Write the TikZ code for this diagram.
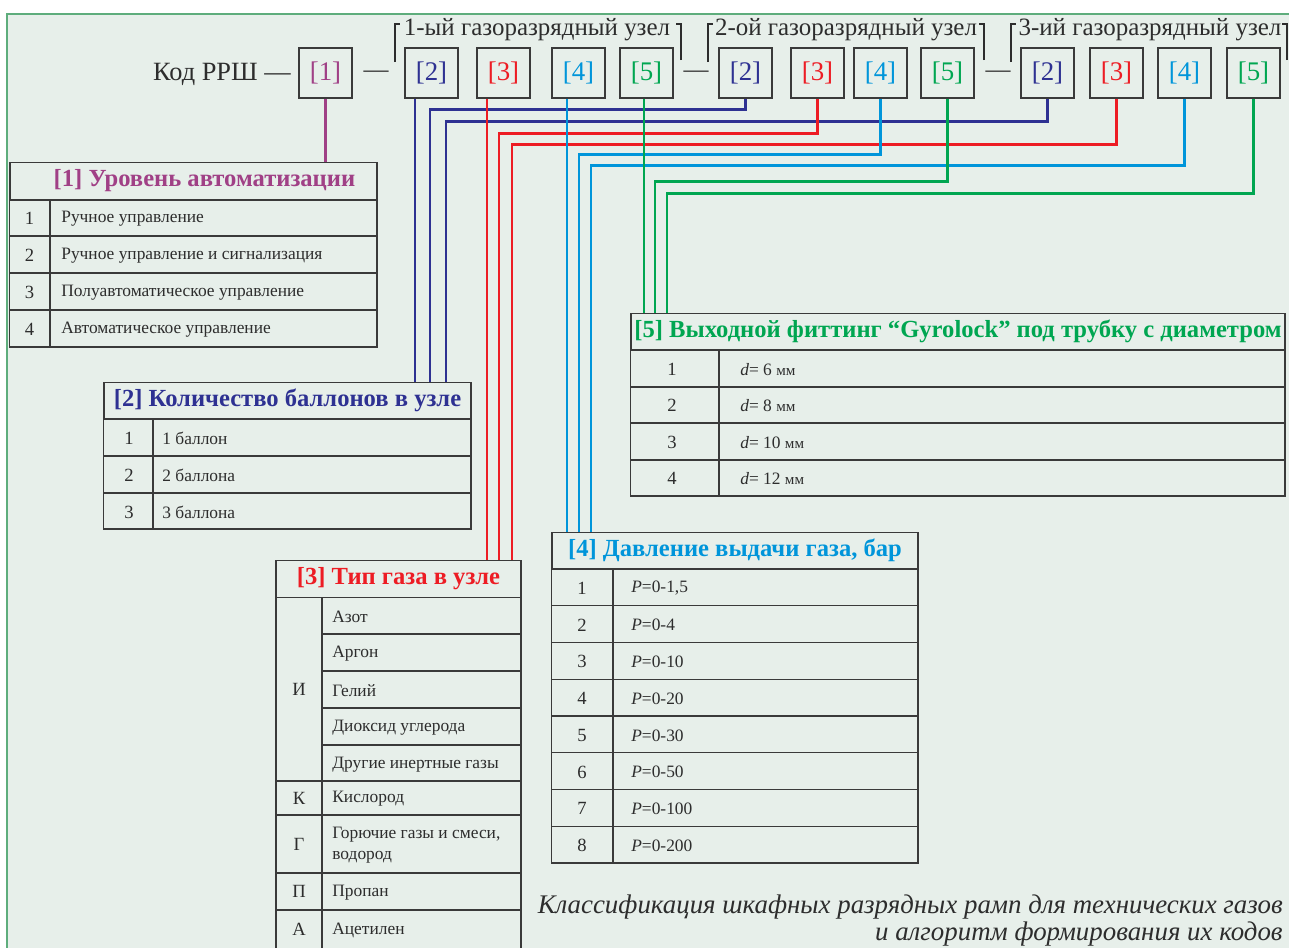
\documentclass[tikz,border=0pt]{standalone}
\usepackage{fontspec}
\setmainfont{Liberation Serif}
\usetikzlibrary{positioning}

\definecolor{bgfill}{RGB}{231,239,234}
\definecolor{frame}{RGB}{94,173,124}
\definecolor{gridgray}{RGB}{58,58,58}
\definecolor{textgray}{RGB}{45,45,45}
\definecolor{purp}{RGB}{160,64,134}
\definecolor{navy}{RGB}{46,49,146}
\definecolor{gasred}{RGB}{237,28,36}
\definecolor{sky}{RGB}{0,149,218}
\definecolor{leaf}{RGB}{0,166,81}

\newcommand\rowfont{\fontsize{9.9}{11.8}\selectfont}
\newcommand\numfont{\fontsize{10.6}{12}\selectfont}
\newcommand\titlefont{\fontsize{14}{16}\selectfont\bfseries}
\newcommand\codefont{\fontsize{15.3}{17}\selectfont}
\newcommand\mmunit{{\fontsize{8.6}{10}\selectfont мм}}

\begin{document}
\begin{tikzpicture}[
  x=0.02cm, y=-0.02cm,
  codebox/.style={
    draw=gridgray,
    line width=0.8pt,
    minimum width=1.06cm,
    minimum height=1cm,
    inner sep=0pt,
    font=\codefont
  },
  tabtitle/.style={
    draw=gridgray,
    line width=0.8pt,
    inner sep=0pt,
    minimum height=0.73cm,
    font=\titlefont
  },
  tabline/.style={draw=gridgray, line width=0.8pt},
  numcell/.style={font=\numfont, text=textgray, inner sep=0pt},
  txtcell/.style={font=\rowfont, text=textgray, inner sep=0pt, anchor=west, align=left},
  grouplabel/.style={font=\fontsize{14.2}{16}\selectfont, text=textgray, inner sep=0pt},
  capline/.style={font=\fontsize{15.3}{17}\selectfont\itshape, text=textgray, inner sep=0pt, anchor=base east},
  bracket/.style={draw=textgray, line width=0.6pt},
  link/.style={line width=1.7pt}
]
\useasboundingbox (0,0) rectangle (1289,948);
% background and frame
\fill[bgfill] (7,14) rectangle (1289,948);
\draw[frame, line width=1.4pt] (1289,14) -- (7,14) -- (7,948);

% code line
\node[grouplabel, font=\fontsize{15}{17}\selectfont, anchor=east] (codelbl) at (291,74) {Код РРШ —};
\node[codebox, text=purp] (b1) at (325.5,73) {[1]};
\node[grouplabel] (d1) at (376,74) {—};
\node[codebox, text=navy] (b2a) at (431.5,73) {[2]};
\node[codebox, text=gasred] (b3a) at (503.5,73) {[3]};
\node[codebox, text=sky] (b4a) at (578.5,73) {[4]};
\node[codebox, text=leaf] (b5a) at (646.5,73) {[5]};
\node[grouplabel] (d2) at (696,74) {—};
\node[codebox, text=navy] (b2b) at (745.5,73) {[2]};
\node[codebox, text=gasred] (b3b) at (817.5,73) {[3]};
\node[codebox, text=sky] (b4b) at (880.5,73) {[4]};
\node[codebox, text=leaf] (b5b) at (947.5,73) {[5]};
\node[grouplabel] (d3) at (998,74) {—};
\node[codebox, text=navy] (b2c) at (1047.5,73) {[2]};
\node[codebox, text=gasred] (b3c) at (1116.5,73) {[3]};
\node[codebox, text=sky] (b4c) at (1184.5,73) {[4]};
\node[codebox, text=leaf] (b5c) at (1253.5,73) {[5]};

% group labels with brackets
\node[grouplabel] (g1) at (537,30) {1-ый газоразрядный узел};
\node[grouplabel] (g2) at (846,30) {2-ой газоразрядный узел};
\node[grouplabel] (g3) at (1150,30) {3-ий газоразрядный узел};
\draw[bracket] (395,62) |- (400,24);
\draw[bracket] (681,60) |- (676,24);
\draw[bracket] (708,62) |- (713,24);
\draw[bracket] (984,60) |- (979,24);
\draw[bracket] (1011,62) |- (1016,24);
\draw[bracket] (1287,60) |- (1282,24);

% table [1]
\node[tabtitle, minimum width=7.34cm, text=purp] (t1) at (193.5,181) {\hspace*{0.44cm}[1] Уровень автоматизации};
\draw[tabline] (t1.south west) rectangle (377,347);
\foreach \y in {236,273,310} \draw[tabline] (10,\y) -- (377,\y);
\draw[tabline] (50,199) -- (50,347);
\foreach \n/\txt [count=\i] in {1/Ручное управление,
    2/Ручное управление и сигнализация,
    3/Полуавтоматическое управление,
    4/Автоматическое управление}{
  \node[numcell] (t1n\i) at (29.5,181.5+37*\i) {\n};
  \node[txtcell] (t1r\i) at (61,181.5+37*\i) {\txt};
}

% table [2]
\node[tabtitle, minimum width=7.34cm, text=navy] (t2) at (287.5,400.5) {[2] Количество баллонов в узле};
\draw[tabline] (t2.south west) rectangle (471,529);
\foreach \y in {456,493} \draw[tabline] (104,\y) -- (471,\y);
\draw[tabline] (153,419) -- (153,529);
\foreach \n/\txt [count=\i] in {1/1 баллон,2/2 баллона,3/3 баллона}{
  \node[numcell] (t2n\i) at (129,401.5+37*\i) {\n};
  \node[txtcell] (t2r\i) at (162,401.5+37*\i) {\txt};
}

% table [3]
\node[tabtitle, minimum width=4.9cm, text=gasred] (t3) at (398.5,579) {[3] Тип газа в узле};
\draw[tabline] (276,597) -- (276,948) (322,597) -- (322,948) (521,597) -- (521,948);
\foreach \y in {781,815,873,910} \draw[tabline] (276,\y) -- (521,\y);
\foreach \y in {634,671,708,745} \draw[tabline] (322,\y) -- (521,\y);
\node[numcell] (t3g1) at (299,689) {И};
\node[numcell] (t3g2) at (299,798) {К};
\node[numcell] (t3g3) at (299,844) {Г};
\node[numcell] (t3g4) at (299,891.5) {П};
\node[numcell] (t3g5) at (299,929) {А};
\foreach \txt [count=\i] in {Азот,Аргон,Гелий,Диоксид углерода,Другие инертные газы}{
  \node[txtcell] (t3r\i) at (332,579.5+37*\i) {\txt};
}
\node[txtcell] (t3r6) at (332,799) {Кислород};
\node[txtcell] (t3r7) at (332,845) {Горючие газы и смеси,\\водород};
\node[txtcell] (t3r8) at (332,892.5) {Пропан};
\node[txtcell] (t3r9) at (332,930) {Ацетилен};

% table [4]
\node[tabtitle, minimum width=7.32cm, text=sky] (t4) at (735,550.5) {[4] Давление выдачи газа, бар};
\draw[tabline] (t4.south west) rectangle (918,863);
\foreach \i in {1,...,7} \draw[tabline] (552,569+36.75*\i) -- (918,569+36.75*\i);
\draw[tabline] (613,569) -- (613,863);
\foreach \val [count=\i] in {{1,5},4,10,20,30,50,100,200}{
  \node[numcell] (t4n\i) at (582,551.6+36.75*\i) {\i};
  \node[txtcell] (t4r\i) at (631,551.6+36.75*\i) {\textit{P}=0-\val};
}

% table [5]
\node[tabtitle, minimum width=13.08cm, text=leaf] (t5) at (958,331.5) {[5] Выходной фиттинг “Gyrolock” под трубку с диаметром};
\draw[tabline] (t5.south west) rectangle (1285,496);
\foreach \y in {387,423,460} \draw[tabline] (631,\y) -- (1285,\y);
\draw[tabline] (719,350) -- (719,496);
\foreach \val [count=\i] in {6,8,10,12}{
  \node[numcell] (t5n\i) at (672,351+36.5*\i-18.25) {\i};
  \node[txtcell] (t5r\i) at (740,351+36.5*\i-18.25) {\textit{d}= \val\ \mmunit};
}

% connectors
\draw[link, purp, line width=1.4pt] (b1.south) -- (t1.north -| b1.south);
\draw[link, navy] (b2a.south -| 415,0) -- (t2.north -| 415,0);
\draw[link, navy] (b2b.south) |- (430,109) -- (t2.north -| 430,0);
\draw[link, navy] (b2c.south) |- (446,121) -- (t2.north -| 446,0);
\draw[link, gasred] (b3a.south -| 487,0) -- (t3.north -| 487,0);
\draw[link, gasred] (b3b.south) |- (499,133) -- (t3.north -| 499,0);
\draw[link, gasred] (b3c.south) |- (512,144) -- (t3.north -| 512,0);
\draw[link, sky] (b4a.south -| 567,0) -- (t4.north -| 567,0);
\draw[link, sky] (b4b.south) |- (579,154) -- (t4.north -| 579,0);
\draw[link, sky] (b4c.south) |- (591,165) -- (t4.north -| 591,0);
\draw[link, leaf] (b5a.south -| 644,0) -- (t5.north -| 644,0);
\draw[link, leaf] (b5b.south) |- (655,181) -- (t5.north -| 655,0);
\draw[link, leaf] (b5c.south) |- (667,193) -- (t5.north -| 667,0);

% caption
\node[capline] (cap1) at (1283,913) {Классификация шкафных разрядных рамп для технических газов};
\node[capline] (cap2) at (1283,940) {и алгоритм формирования их кодов};
\end{tikzpicture}
\end{document}
